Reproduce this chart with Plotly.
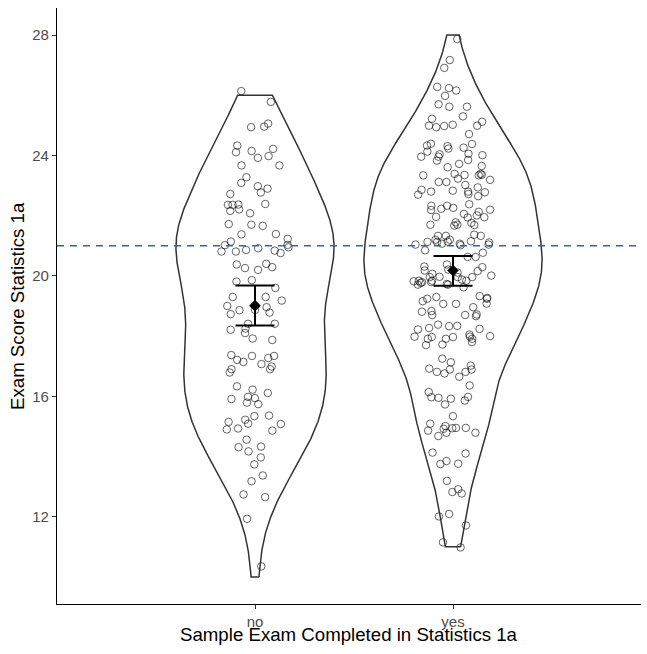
import numpy as np
import plotly.graph_objects as go

# ---------------- data ----------------
groups = ["no", "yes"]

# jittered point heights as they appear in the chart (scores are integers, points jittered +-0.4)
no_points = [26.14, 25.78, 24.96, 24.94, 25.06, 24.33, 23.98, 23.67, 24.22, 24.15, 24.11, 23.92,
             23.67, 23.28, 23.09, 22.98, 22.90, 22.77, 22.72, 22.36, 22.39, 22.36, 22.37, 22.21,
             22.16, 22.08, 21.72, 21.70, 21.66, 21.39, 21.38, 21.23, 21.02, 20.95, 20.81, 20.81,
             20.76, 20.84, 20.86, 21.03, 21.14, 20.92, 20.40, 20.38, 20.20, 20.26, 20.29, 19.81,
             19.86, 19.60, 19.30, 19.30, 19.18, 18.87, 18.86, 19.00, 18.96, 18.78, 18.73, 18.41,
             18.41, 18.21, 18.10, 18.25, 17.92, 17.87, 17.34, 17.21, 17.34, 17.07, 16.90, 16.79,
             17.37, 17.27, 16.99, 16.90, 17.14, 16.33, 16.22, 16.11, 15.91, 15.79, 15.94, 15.74,
             15.98, 15.36, 15.34, 15.15, 15.08, 15.09, 15.22, 14.93, 14.86, 14.90, 14.56, 14.33,
             14.31, 14.17, 13.97, 13.74, 13.37, 13.18, 12.65, 12.74, 11.93, 10.35]

yes_points = [27.87, 27.17, 26.91, 26.24, 26.28, 26.16, 25.98, 25.62, 25.70, 25.62, 25.22, 24.99,
              25.02, 25.30, 24.99, 25.12, 24.98, 24.94, 24.71,
              24.33, 24.38, 24.13, 24.23, 24.39, 24.31, 24.26, 24.04, 24.06, 23.85, 23.96, 23.96,
              24.01, 23.83, 23.72, 23.65, 23.61, 23.39, 23.39, 23.36, 23.35, 23.34, 23.34, 23.23,
              23.19, 23.12, 23.12, 23.02, 22.94, 22.86, 22.80, 22.80, 22.78, 22.70, 22.83, 22.72,
              22.65, 22.33, 22.33, 22.38, 22.26, 22.20, 22.13, 22.19, 22.23, 22.06, 22.01, 21.96,
              21.95, 21.94, 21.78, 21.76, 21.70, 21.69, 21.70, 21.67, 21.37, 21.33, 21.33, 21.33,
              21.13, 21.02, 21.20, 21.13, 21.07, 21.11, 21.07, 21.14, 21.15, 21.04, 21.20, 21.04,
              20.85, 20.77, 20.63, 20.63, 20.38, 20.21, 20.18, 20.31, 20.29, 20.11, 20.01, 20.16,
              20.07, 19.84, 19.71, 19.62, 19.73, 19.84, 19.96, 19.88, 19.82, 19.96, 19.96, 19.97,
              19.84, 19.79, 19.77, 19.71, 19.79, 19.30, 19.33, 19.27, 19.08, 19.24, 19.16, 19.07,
              19.07, 19.24, 18.81, 18.83, 18.96, 18.70, 18.70, 18.66, 18.72, 18.38, 18.27, 18.05,
              18.33, 18.22, 18.34, 18.24, 17.97, 17.91, 17.91, 17.91, 17.80, 18.00, 17.98, 17.97,
              17.98, 17.70, 17.72,
              17.25, 17.13, 16.92, 16.89, 16.89, 17.02, 16.76, 16.81, 16.81, 16.65, 16.36, 16.14,
              15.92, 15.95, 15.98, 15.97, 15.86, 15.73, 15.34, 14.95, 14.79, 14.79, 14.68, 14.86,
              14.94, 15.09, 14.95, 15.01, 14.92,
              14.13, 14.10, 13.76, 13.85, 13.75, 13.19, 12.77, 12.82, 12.91, 12.01, 12.09, 11.71,
              11.15, 10.98]

mean_score = [19.01, 20.18]
ci_lower = [18.35, 19.67]
ci_upper = [19.68, 20.66]
pass_mark = 21
y_ticks = [12, 16, 20, 24, 28]

# ---------------- helpers ----------------
def nrd0(x):
    x = np.asarray(x, float)
    sd = x.std(ddof=1)
    q75, q25 = np.percentile(x, [75, 25])
    lo = min(sd, (q75 - q25) / 1.34)
    if lo <= 0:
        lo = sd
    return 0.9 * lo * len(x) ** -0.2


def kde(x, n=512):
    x = np.asarray(x, float)
    bw = nrd0(x)
    grid = np.linspace(x.min(), x.max(), n)
    d = np.exp(-0.5 * ((grid[:, None] - x[None, :]) / bw) ** 2).sum(1)
    d /= len(x) * bw * np.sqrt(2 * np.pi)
    return grid, d


point_sets = [no_points, yes_points]
scores = [np.round(np.asarray(p)) for p in point_sets]
positions = [1, 2]
dens = [kde(s) for s in scores]
dmax = max(d.max() for _, d in dens)
violin_width = 0.9

fig = go.Figure()

# violins (area-scaled, trimmed to data range)
for pos, (grid, d) in zip(positions, dens):
    hw = d / dmax * violin_width / 2
    xs = np.concatenate([pos + hw, (pos - hw)[::-1], [pos + hw[0]]])
    ys = np.concatenate([grid, grid[::-1], [grid[0]]])
    fig.add_trace(go.Scatter(x=xs, y=ys, mode="lines",
                             line=dict(color="#333333", width=1.5),
                             hoverinfo="skip", showlegend=False))

# jittered points
for pos, pts in zip(positions, point_sets):
    fig.add_trace(go.Box(x=[pos] * len(pts), y=pts, boxpoints="all", jitter=1, pointpos=0,
                         width=0.4, fillcolor="rgba(0,0,0,0)",
                         line=dict(width=0, color="rgba(0,0,0,0)"),
                         marker=dict(symbol="circle-open", size=7.5, color="rgba(0,0,0,0.6)",
                                     line=dict(width=1, color="rgba(0,0,0,0.6)")),
                         hoverinfo="skip", showlegend=False))

# mean and error bars
m = np.asarray(mean_score)
fig.add_trace(go.Scatter(
    x=positions, y=mean_score, mode="markers",
    marker=dict(symbol="diamond", size=9, color="black"),
    error_y=dict(type="data", symmetric=False, array=np.asarray(ci_upper) - m,
                 arrayminus=m - np.asarray(ci_lower), width=19.5, thickness=2, color="black"),
    hoverinfo="skip", showlegend=False))

# reference line
fig.add_shape(type="line", xref="paper", x0=0, x1=1, yref="y", y0=pass_mark, y1=pass_mark,
              line=dict(color="#3D5BC0", width=1.6, dash="7px,6px"), layer="above")

font_family = "Liberation Sans, Arial, sans-serif"
axis_common = dict(showline=True, linecolor="black", linewidth=1.3, ticks="outside",
                   ticklen=4, tickwidth=1.1, tickcolor="#333333", showgrid=False,
                   zeroline=False, tickfont=dict(family=font_family, size=15, color="#4D4D4D"))

fig.update_layout(
    width=647, height=654,
    margin=dict(l=57, r=6, t=8, b=50),
    paper_bgcolor="white", plot_bgcolor="white",
    font=dict(family=font_family),
    xaxis=dict(range=[0, 2.9495], tickvals=positions, ticktext=groups, **axis_common),
    yaxis=dict(range=[9.1, 28.9], tickvals=y_ticks, **axis_common),
    annotations=[
        dict(text="Sample Exam Completed in Statistics 1a", xref="paper", yref="paper",
             x=0.5, y=0, xanchor="center", yanchor="middle", yshift=-30, showarrow=False,
             font=dict(family=font_family, size=18.67, color="black")),
        dict(text="Exam Score Statistics 1a", xref="paper", yref="paper", x=0, y=0.5,
             xanchor="center", yanchor="middle", xshift=-40, textangle=-90, showarrow=False,
             font=dict(family=font_family, size=18.67, color="black")),
    ],
)

fig.write_html("out.html", config={"displayModeBar": False},
               post_script="document.body.style.margin='0';")
